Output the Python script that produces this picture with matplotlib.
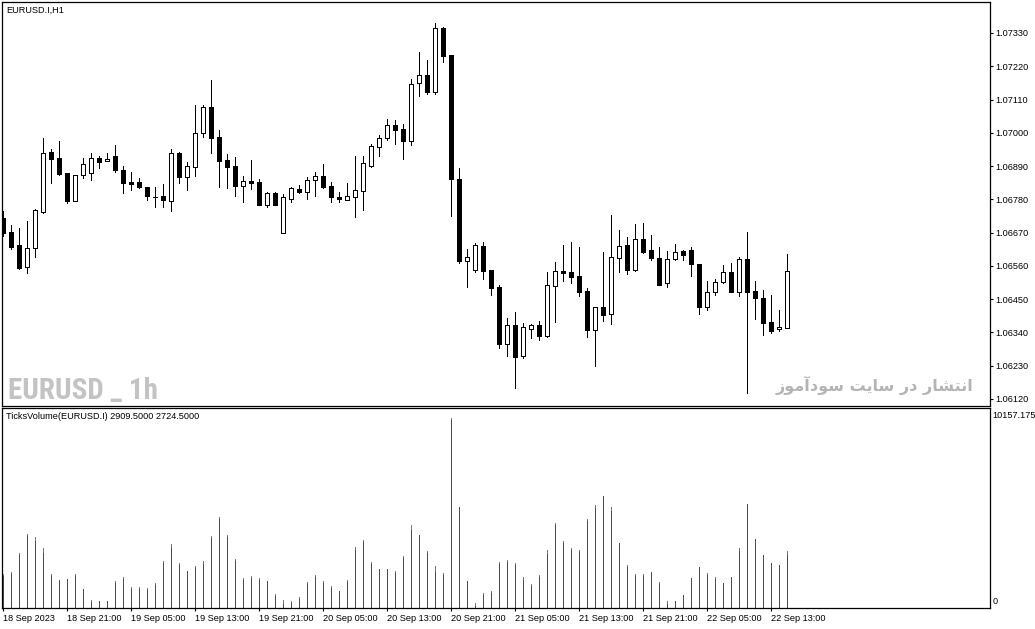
import matplotlib
matplotlib.use('Agg')
import matplotlib.pyplot as plt
from matplotlib import font_manager
import numpy as np

# ---------------- data ----------------
opens = [
    1.06718, 1.06672, 1.06629, 1.06556, 1.06619, 1.06738, 1.06937, 1.06917, 1.06867, 1.06775,
    1.06861, 1.06867, 1.06917, 1.06907, 1.06923, 1.06877, 1.06837, 1.06837, 1.06821, 1.06788,
    1.06791, 1.06775, 1.06933, 1.06854, 1.06887, 1.06999, 1.07085, 1.06986, 1.06910, 1.06890,
    1.06824, 1.06841, 1.06837, 1.06761, 1.06801, 1.06669, 1.06781, 1.06814, 1.06804, 1.06844,
    1.06857, 1.06824, 1.06788, 1.06778, 1.06788, 1.06808, 1.06890, 1.06953, 1.06983, 1.07026,
    1.07013, 1.06973, 1.07165, 1.07191, 1.07135, 1.07346, 1.07257, 1.06847, 1.06576, 1.06546,
    1.06626, 1.06546, 1.06490, 1.06302, 1.06365, 1.06262, 1.06351, 1.06365, 1.06328, 1.06494,
    1.06543, 1.06540, 1.06527, 1.06477, 1.06348, 1.06424, 1.06401, 1.06586, 1.06629, 1.06546,
    1.06649, 1.06613, 1.06586, 1.06503, 1.06583, 1.06609, 1.06613, 1.06566, 1.06424, 1.06474,
    1.06507, 1.06540, 1.06474, 1.06583, 1.06477, 1.06454, 1.06375, 1.06351, 1.06355]

highs = [
    1.06742, 1.06695, 1.06685, 1.06708, 1.06748, 1.06983, 1.06947, 1.06973, 1.06867, 1.06861,
    1.06917, 1.06933, 1.06923, 1.06933, 1.06960, 1.06890, 1.06870, 1.06851, 1.06821, 1.06821,
    1.06831, 1.06947, 1.06937, 1.06904, 1.07092, 1.07092, 1.07175, 1.07009, 1.06930, 1.06920,
    1.06857, 1.06910, 1.06847, 1.06804, 1.06804, 1.06798, 1.06821, 1.06827, 1.06854, 1.06870,
    1.06897, 1.06837, 1.06804, 1.06834, 1.06923, 1.06923, 1.06963, 1.06993, 1.07046, 1.07042,
    1.07029, 1.07178, 1.07267, 1.07241, 1.07363, 1.07350, 1.07257, 1.06884, 1.06616, 1.06636,
    1.06639, 1.06546, 1.06497, 1.06388, 1.06408, 1.06371, 1.06368, 1.06378, 1.06540, 1.06573,
    1.06629, 1.06639, 1.06622, 1.06487, 1.06424, 1.06606, 1.06728, 1.06679, 1.06656, 1.06699,
    1.06702, 1.06662, 1.06622, 1.06609, 1.06632, 1.06613, 1.06622, 1.06566, 1.06510, 1.06517,
    1.06563, 1.06570, 1.06589, 1.06672, 1.06510, 1.06480, 1.06464, 1.06414, 1.06599]

lows = [
    1.06659, 1.06616, 1.06550, 1.06537, 1.06589, 1.06735, 1.06834, 1.06861, 1.06768, 1.06775,
    1.06851, 1.06844, 1.06884, 1.06907, 1.06870, 1.06801, 1.06811, 1.06818, 1.06778, 1.06755,
    1.06755, 1.06742, 1.06834, 1.06811, 1.06857, 1.06986, 1.06933, 1.06821, 1.06818, 1.06791,
    1.06771, 1.06814, 1.06761, 1.06755, 1.06761, 1.06669, 1.06771, 1.06801, 1.06781, 1.06791,
    1.06818, 1.06771, 1.06771, 1.06778, 1.06722, 1.06745, 1.06887, 1.06923, 1.06976, 1.06963,
    1.06913, 1.06960, 1.07122, 1.07128, 1.07128, 1.07234, 1.06725, 1.06570, 1.06490, 1.06540,
    1.06517, 1.06464, 1.06289, 1.06262, 1.06156, 1.06255, 1.06322, 1.06315, 1.06325, 1.06375,
    1.06510, 1.06503, 1.06460, 1.06325, 1.06229, 1.06378, 1.06368, 1.06540, 1.06533, 1.06543,
    1.06603, 1.06580, 1.06497, 1.06490, 1.06580, 1.06580, 1.06527, 1.06401, 1.06414, 1.06464,
    1.06503, 1.06474, 1.06460, 1.06140, 1.06384, 1.06331, 1.06338, 1.06345, 1.06355]

closes = [
    1.06669, 1.06622, 1.06553, 1.06619, 1.06745, 1.06933, 1.06913, 1.06864, 1.06775, 1.06861,
    1.06897, 1.06917, 1.06904, 1.06913, 1.06877, 1.06834, 1.06831, 1.06821, 1.06791, 1.06788,
    1.06778, 1.06933, 1.06854, 1.06890, 1.06999, 1.07085, 1.06983, 1.06907, 1.06887, 1.06824,
    1.06841, 1.06834, 1.06761, 1.06801, 1.06761, 1.06788, 1.06818, 1.06804, 1.06844, 1.06857,
    1.06821, 1.06788, 1.06781, 1.06791, 1.06811, 1.06900, 1.06956, 1.06983, 1.07026, 1.07009,
    1.06973, 1.07161, 1.07191, 1.07135, 1.07346, 1.07254, 1.06847, 1.06576, 1.06589, 1.06629,
    1.06543, 1.06487, 1.06302, 1.06365, 1.06259, 1.06358, 1.06365, 1.06328, 1.06497, 1.06543,
    1.06537, 1.06523, 1.06474, 1.06348, 1.06424, 1.06398, 1.06589, 1.06626, 1.06546, 1.06649,
    1.06606, 1.06586, 1.06497, 1.06583, 1.06606, 1.06596, 1.06566, 1.06424, 1.06474, 1.06507,
    1.06540, 1.06474, 1.06583, 1.06474, 1.06454, 1.06371, 1.06345, 1.06358, 1.06543]

# tick volume (blue, first buffer) and second buffer (red)
vol_ticks = [
    1720, 1820, 2790, 3740, 3624, 3065, 1710, 1440, 1490, 1710,
    980, 406, 370, 370, 1350, 1560, 1050, 1050, 1000, 1250,
    2380, 3268, 2270, 1900, 2150, 2405, 3650, 4620, 3700, 2480,
    1510, 1610, 1510, 1390, 690, 406, 335, 540, 1300, 1693,
    1350, 1100, 880, 1440, 3082, 3454, 2354, 2000, 2000, 1860,
    2630, 4216, 3730, 2880, 2134, 1760, 9630, 5150, 1390, 271,
    740, 845, 2320, 2438, 2270, 1575, 1200, 1660, 2946, 4335,
    3390, 3030, 2930, 4510, 5249, 5710, 5148, 3320, 2170, 1744,
    1710, 1850, 1300, 356, 370, 675, 1540, 2100, 1778, 1575,
    1290, 1590, 3048, 5300, 3525, 2710, 2300, 2200, 2909.5]

vol_real = [
    1693, 1795, 2760, 3708, 3454, 2862, 1693, 1422, 1473, 1676,
    965, 356, 356, 356, 1338, 1541, 1033, 1033, 982, 1236,
    2354, 3116, 2252, 1880, 2100, 2303, 3624, 4590, 3675, 2455,
    1490, 1592, 1490, 1372, 677, 254, 322, 525, 1287, 1643,
    1338, 1084, 864, 1389, 3014, 3404, 2303, 1981, 1981, 1846,
    2608, 4013, 3708, 2862, 1880, 1744, 9601, 5131, 1372, 152,
    728, 829, 2303, 2371, 2252, 1473, 1185, 1643, 2811, 4267,
    3370, 3014, 2913, 4488, 5148, 5690, 4978, 3302, 2150, 1659,
    1693, 1829, 1287, 237, 356, 660, 1524, 2083, 1727, 1524,
    1270, 1575, 2946, 5283, 3505, 2692, 2286, 2184, 2724.5]

price_ticks = [1.06120, 1.06230, 1.06340, 1.06450, 1.06560, 1.06670,
               1.06780, 1.06890, 1.07000, 1.07110, 1.07220, 1.07330]

time_label_idx = [0, 8, 16, 24, 32, 40, 48, 56, 64, 72, 80, 88, 96]
time_labels = ["18 Sep 2023", "18 Sep 21:00", "19 Sep 05:00", "19 Sep 13:00",
               "19 Sep 21:00", "20 Sep 05:00", "20 Sep 13:00", "20 Sep 21:00",
               "21 Sep 05:00", "21 Sep 13:00", "21 Sep 21:00", "22 Sep 05:00",
               "22 Sep 13:00"]

vol_scale_max = 10157.175
chart_title = "EURUSD.I,H1"
vol_title = "TicksVolume(EURUSD.I) 2909.5000 2724.5000"
watermark_en = "EURUSD _ 1h"
watermark_fa = "انتشار در سایت سودآموز"

# ---------------- simple Arabic-script shaping (presentation forms) ----------------
FORMS = {
    'ا': ('\uFE8D', '\uFE8E'), 'آ': ('\uFE81', '\uFE82'),
    'د': ('\uFEA9', '\uFEAA'), 'ر': ('\uFEAD', '\uFEAE'),
    'ز': ('\uFEAF', '\uFEB0'), 'و': ('\uFEED', '\uFEEE'),
    'ن': ('\uFEE5', '\uFEE6', '\uFEE7', '\uFEE8'),
    'ت': ('\uFE95', '\uFE96', '\uFE97', '\uFE98'),
    'ش': ('\uFEB5', '\uFEB6', '\uFEB7', '\uFEB8'),
    'س': ('\uFEB1', '\uFEB2', '\uFEB3', '\uFEB4'),
    'م': ('\uFEE1', '\uFEE2', '\uFEE3', '\uFEE4'),
    'ی': ('\uFBFC', '\uFBFD', '\uFBFE', '\uFBFF'),
}


def shape_rtl(text):
    out = []
    for k, ch in enumerate(text):
        f = FORMS.get(ch)
        if f is None:
            out.append(ch)
            continue
        prev = text[k - 1] if k > 0 else None
        nxt = text[k + 1] if k + 1 < len(text) else None
        jp = prev in FORMS and len(FORMS[prev]) == 4
        jn = nxt in FORMS and len(f) == 4
        if jp and jn:
            out.append(f[3])
        elif jp:
            out.append(f[1])
        elif jn:
            out.append(f[2])
        else:
            out.append(f[0])
    return ''.join(reversed(out))


# ---------------- fonts ----------------
avail = {f.name for f in font_manager.fontManager.ttflist}
label_font = 'Liberation Sans' if 'Liberation Sans' in avail else 'DejaVu Sans'
narrow_font = next((n for n in ['Liberation Sans Narrow', 'DejaVu Sans Condensed',
                                'Roboto Condensed', 'Open Sans Condensed']
                    if n in avail), label_font)
plt.rcParams['font.family'] = [label_font, 'DejaVu Sans']

# ---------------- figure ----------------
W, H = 1035, 629
fig = plt.figure(figsize=(W / 100, H / 100), dpi=100)


def fx(px):
    return px / W


def fy(py):
    return 1 - py / H


ax = fig.add_axes([fx(2), fy(405.5), fx(990) - fx(2), fy(2) - fy(405.5)])
axv = fig.add_axes([fx(2), fy(608), fx(990) - fx(2), fy(407.5) - fy(608)])

x = np.arange(len(opens))
o = np.array(opens)
c = np.array(closes)
up = c >= o
body_lo = np.minimum(o, c)
body_h = np.abs(c - o)

PX = 0.72  # one pixel in points at 100 dpi
ax.vlines(x, lows, highs, color='black', lw=PX, antialiased=False, zorder=1)
ax.bar(x[up], body_h[up], bottom=body_lo[up], width=0.5,
       facecolor='white', edgecolor='black', lw=PX, antialiased=False, zorder=2)
ax.bar(x[~up], body_h[~up], bottom=body_lo[~up], width=0.5,
       facecolor='black', edgecolor='black', lw=PX, antialiased=False, zorder=2)

XLIM = (-0.125, 123.375)
ax.set_xlim(*XLIM)
ax.set_ylim(1.06098, 1.074325)
ax.set_xticks([])
ax.set_yticks(price_ticks)
ax.set_yticklabels([f"{t:.5f}" for t in price_ticks])
ax.yaxis.tick_right()
ax.tick_params(axis='y', length=2.5, width=0.8, labelsize=6.6, pad=1.5, colors='black')

axv.vlines(x, 0, vol_real, color='#ff0000', lw=PX, antialiased=False)
axv.vlines(x, vol_real, vol_ticks, color='#4f7fb5', lw=PX, antialiased=False)
axv.set_xlim(*XLIM)
axv.set_ylim(0, 10185)
axv.set_yticks([])
axv.set_xticks(time_label_idx)
axv.set_xticklabels(time_labels, ha='left')
axv.tick_params(axis='x', length=2.5, width=0.8, labelsize=6.6, pad=1.5)

for a in (ax, axv):
    for s in a.spines.values():
        s.set_linewidth(0.9)
        s.set_color('black')

fig.text(fx(992.5), fy(415), f"{vol_scale_max:.3f}", fontsize=6.6, va='center', ha='left')
fig.text(fx(992.5), fy(602), "0", fontsize=6.6, va='center', ha='left')

fig.text(fx(6.5), fy(10), chart_title, fontsize=6.6, va='center', ha='left')
fig.text(fx(6.5), fy(416.5), vol_title, fontsize=6.6, va='center', ha='left')

fig.text(fx(8), fy(399), watermark_en, fontsize=21, fontweight='bold',
         family=[narrow_font, 'DejaVu Sans'], fontstretch='condensed',
         color='#c3c3c3', va='baseline', ha='left')
fig.text(fx(973), fy(385), shape_rtl(watermark_fa), fontsize=11.5, fontweight='bold',
         family=['DejaVu Sans'], color='#b4b4b4', va='center', ha='right')

fig.savefig('out.png', dpi=100)
